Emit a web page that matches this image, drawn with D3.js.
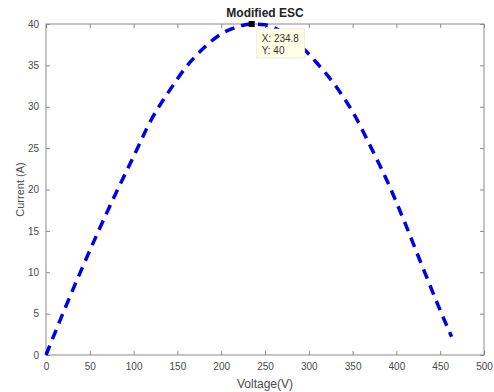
<!DOCTYPE html>
<html>
<head>
<meta charset="utf-8">
<script src="https://d3js.org/d3.v7.min.js"></script>
<style>
  body { margin: 0; background: #fff; }
  svg { display: block; font-family: "Liberation Sans", Arial, sans-serif; }
</style>
</head>
<body>
<div id="chart"></div>
<script>
// values
var voltage = [0, 20, 40, 60, 80, 100, 120, 140, 160, 180, 200, 220, 234.8,
  250, 270, 290, 310, 330, 350, 370, 390, 410, 430, 450, 463];
var current = [0, 5.2, 10.2, 15.0, 19.6, 24.0, 28.4, 31.8, 34.8, 37.1, 38.8, 39.7, 40,
  39.9, 39.0, 37.4, 35.2, 32.6, 29.4, 25.3, 20.9, 15.9, 10.6, 5.4, 2.2];
var xTicks = [0, 50, 100, 150, 200, 250, 300, 350, 400, 450, 500];
var yTicks = [0, 5, 10, 15, 20, 25, 30, 35, 40];
var peak = { x: 234.8, y: 40 };

var width = 494, height = 392;
var margin = { top: 24, right: 10, bottom: 37, left: 46 };

var svg = d3.select("#chart").append("svg")
    .attr("width", width)
    .attr("height", height);

var x = d3.scaleLinear().domain([0, 500]).range([margin.left, width - margin.right]);
var y = d3.scaleLinear().domain([0, 40]).range([height - margin.bottom, margin.top]);

var axisColor = "#8a8a8a";
var textColor = "#4a4a4a";

// box
svg.append("rect")
    .attr("x", x(0)).attr("y", y(40))
    .attr("width", x(500) - x(0)).attr("height", y(0) - y(40))
    .attr("fill", "none").attr("stroke", axisColor).attr("stroke-width", 1);

function styleAxis(g) {
  g.select(".domain").remove();
  g.selectAll(".tick line").attr("stroke", axisColor);
  g.selectAll(".tick text").attr("fill", textColor).style("font-size", "10px");
}

svg.append("g")
    .attr("transform", "translate(0," + y(0) + ")")
    .call(d3.axisBottom(x).tickValues(xTicks).tickSizeInner(-4).tickSizeOuter(0).tickPadding(8))
    .call(styleAxis);
svg.append("g")
    .attr("transform", "translate(0," + y(40) + ")")
    .call(d3.axisTop(x).tickValues(xTicks).tickSizeInner(-4).tickSizeOuter(0).tickFormat(""))
    .call(styleAxis);
svg.append("g")
    .attr("transform", "translate(" + x(0) + ",0)")
    .call(d3.axisLeft(y).tickValues(yTicks).tickSizeInner(-4).tickSizeOuter(0).tickPadding(7))
    .call(styleAxis);
svg.append("g")
    .attr("transform", "translate(" + x(500) + ",0)")
    .call(d3.axisRight(y).tickValues(yTicks).tickSizeInner(-4).tickSizeOuter(0).tickFormat(""))
    .call(styleAxis);

// curve
var line = d3.line()
    .x(function(d, i) { return x(voltage[i]); })
    .y(function(d, i) { return y(current[i]); })
    .curve(d3.curveMonotoneX);

svg.append("path")
    .datum(voltage)
    .attr("d", line)
    .attr("fill", "none")
    .attr("stroke", "#0000e6")
    .attr("stroke-width", 3.5)
    .attr("stroke-dasharray", "10,7");

// titles
svg.append("text")
    .attr("x", (x(0) + x(500)) / 2).attr("y", 17)
    .attr("text-anchor", "middle")
    .attr("font-weight", "bold")
    .style("font-size", "12px")
    .attr("fill", "#222")
    .text("Modified ESC");

svg.append("text")
    .attr("x", (x(0) + x(500)) / 2).attr("y", 388)
    .attr("text-anchor", "middle")
    .style("font-size", "12px")
    .attr("fill", textColor)
    .text("Voltage(V)");

svg.append("text")
    .attr("transform", "translate(24," + ((y(0) + y(40)) / 2) + ") rotate(-90)")
    .attr("text-anchor", "middle")
    .style("font-size", "11px")
    .attr("fill", textColor)
    .text("Current (A)");

// data tip
var px = x(peak.x), py = y(peak.y);
var tip = svg.append("g").attr("transform", "translate(" + (px + 5) + "," + (py + 5) + ")");
tip.append("rect")
    .attr("width", 48).attr("height", 29)
    .attr("fill", "#ffffe6").attr("stroke", "#e8e8d8").attr("stroke-width", 0.8);
tip.append("text").attr("x", 5).attr("y", 13).style("font-size", "10px").attr("fill", "#333")
    .text("X: " + peak.x);
tip.append("text").attr("x", 5).attr("y", 25).style("font-size", "10px").attr("fill", "#333")
    .text("Y: " + peak.y);
svg.append("rect")
    .attr("x", px - 3).attr("y", py - 3)
    .attr("width", 6).attr("height", 6)
    .attr("fill", "#000");
</script>
</body>
</html>
